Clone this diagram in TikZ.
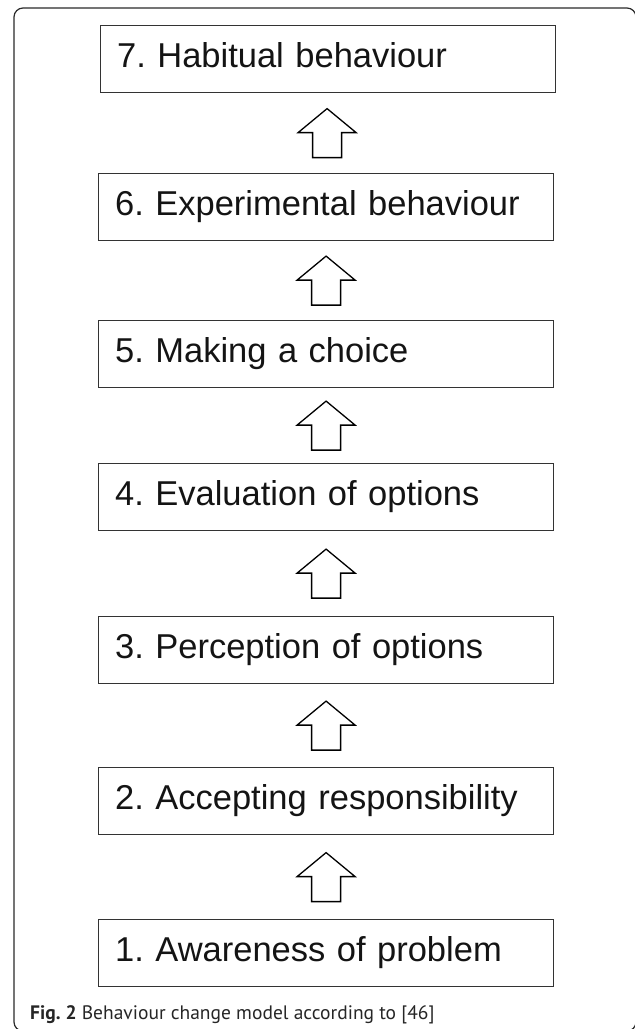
\documentclass[tikz,border=0pt]{standalone}
\usepackage{fontspec}
\setmainfont{Liberation Sans}
\newfontfamily\capfont{PT Sans}
\usetikzlibrary{calc}
\definecolor{boxline}{HTML}{333333}
\definecolor{frameline}{HTML}{2A2A2A}
\definecolor{captext}{HTML}{262626}
\frenchspacing
\begin{document}
\begin{tikzpicture}[x=1pt,y=-1pt,
  stagebox/.style={draw=boxline, line width=1.2pt, anchor=north west,
    inner ysep=0pt, inner xsep=16.5pt, text width=422pt, align=left,
    text height=42pt, text depth=25pt,
    font=\fontsize{34.5}{36}\selectfont, text=black!92},
  blockarrow/.style={draw=black, line width=1.3pt, fill=white, line join=miter},
  framebox/.style={draw=frameline, line width=1.2pt, rounded corners=9pt}]
\useasboundingbox (0,0) rectangle (635,1029);
\draw[framebox] (14,8) rectangle (636,1031);
\node[stagebox] (s7) at (100,25)  {7. Habitual behaviour};
\node[stagebox] (s6) at (98,173)  {6. Experimental behaviour};
\node[stagebox] (s5) at (98,320)  {5. Making a choice};
\node[stagebox] (s4) at (98,463)  {4. Evaluation of options};
\node[stagebox] (s3) at (98,616)  {3. Perception of options};
\node[stagebox] (s2) at (98,767)  {2. Accepting responsibility};
\node[stagebox] (s1) at (98,919)  {1. Awareness of problem};
\foreach \a/\b in {s1/s2, s2/s3, s3/s4, s4/s5, s5/s6, s6/s7} {
  \coordinate (m\a) at ($(\a.north)!0.5!(\b.south)$);
  \draw[blockarrow, shift={(m\a)}] (-14.5,24.5) -- (14.5,24.5) -- (14.5,-0.5)
    -- (29,-0.5) -- (0,-24.5) -- (-29,-0.5) -- (-14.5,-0.5) -- cycle;
}
\node[anchor=base west, inner sep=0pt, text=captext,
  font=\capfont\fontsize{19.5}{22}\selectfont] (cap) at (30,1019)
  {\textbf{Fig. 2} Behaviour change model according to [46]};
\end{tikzpicture}
\end{document}
